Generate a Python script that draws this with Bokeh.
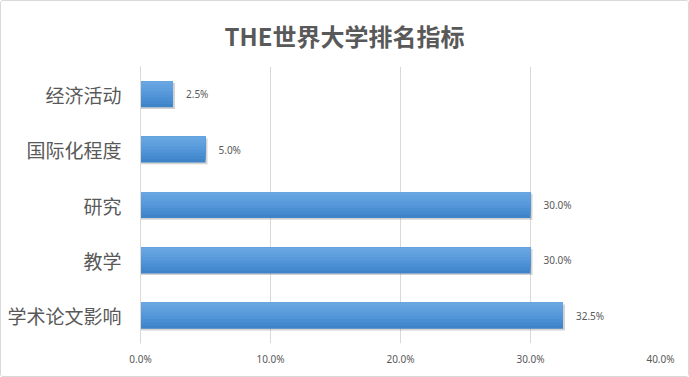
from bokeh.plotting import figure
from bokeh.models import ColumnDataSource, FactorRange, Range1d, FixedTicker, NumeralTickFormatter
from bokeh.transform import dodge
from bokeh.core.properties import value
from bokeh.embed import file_html
from bokeh.resources import INLINE

# data (top to bottom as displayed)
categories = ["经济活动", "国际化程度", "研究", "教学", "学术论文影响"]
weights = [0.025, 0.05, 0.30, 0.30, 0.325]
x_ticks = [0.0, 0.1, 0.2, 0.3, 0.4]

title_text = "THE世界大学排名指标"
TEXT = "#595959"
GRID = "#d9d9d9"

factors = list(reversed(categories))
labels = [f"{w*100:.1f}%" for w in weights]
src = ColumnDataSource(dict(cat=categories, w=weights, lab=labels,
                            shadow=[w + 0.0015 for w in weights]))

p = figure(width=689, height=377, output_backend="svg", toolbar_location=None,
           y_range=FactorRange(factors=factors, range_padding=0),
           x_range=Range1d(0, 0.4),
           min_border_left=139, min_border_right=30, min_border_top=64, min_border_bottom=35)

p.styles = {"border": "1px solid #d9d9d9", "border-radius": "3px", "box-sizing": "border-box"}
p.outline_line_color = None
p.background_fill_color = "white"

# title
p.title.text = title_text
p.title.text_font = "Noto Sans CJK SC"
p.title.text_font_size = "24px"
p.title.text_font_style = "bold"
p.title.text_color = TEXT
p.title.align = "left"
p.title.offset = 84
p.title.standoff = 28

# grid
p.ygrid.grid_line_color = None
p.xgrid.grid_line_color = GRID
p.xgrid.ticker = FixedTicker(ticks=x_ticks)

# x axis
p.xaxis.ticker = FixedTicker(ticks=x_ticks)
p.xaxis.formatter = NumeralTickFormatter(format="0.0%")
p.xaxis.axis_line_color = None
p.xaxis.major_tick_line_color = None
p.xaxis.minor_tick_line_color = None
p.xaxis.major_tick_out = 0
p.xaxis.major_label_standoff = 8
p.xaxis.major_label_text_font = "Noto Sans"
p.xaxis.major_label_text_font_size = "10px"
p.xaxis.major_label_text_color = TEXT

# y axis
p.yaxis.axis_line_color = GRID
p.yaxis.major_tick_line_color = None
p.yaxis.minor_tick_line_color = None
p.yaxis.major_tick_out = 0
p.yaxis.major_label_standoff = 19
p.yaxis.major_label_text_font = "Noto Sans CJK SC"
p.yaxis.major_label_text_font_size = "19px"
p.yaxis.major_label_text_color = TEXT

# bars: shadow, then gradient layers
H = 0.47
p.hbar(y=dodge("cat", -0.03, range=p.y_range), right="shadow", left=0, height=H,
       source=src, fill_color="#7f7f7f", fill_alpha=0.35, line_color=None)

grad = ["#3f83c9", "#4589ce", "#4b8fd3", "#5194d7", "#5799da", "#5d9edd", "#63a2df", "#68a6e1"]
N = len(grad)
for i, c in enumerate(grad):
    h = H * (N - i) / N
    p.hbar(y=dodge("cat", H / 2 - h / 2, range=p.y_range), right="w", left=0, height=h,
           source=src, fill_color=c, line_color=None)

# data labels
p.text(x="w", y="cat", text="lab", source=src, x_offset=13,
       text_baseline="middle", text_align="left",
       text_font=value("Noto Sans"), text_font_size="10px", text_color=TEXT)

open("out.html", "w").write(file_html(p, INLINE))
